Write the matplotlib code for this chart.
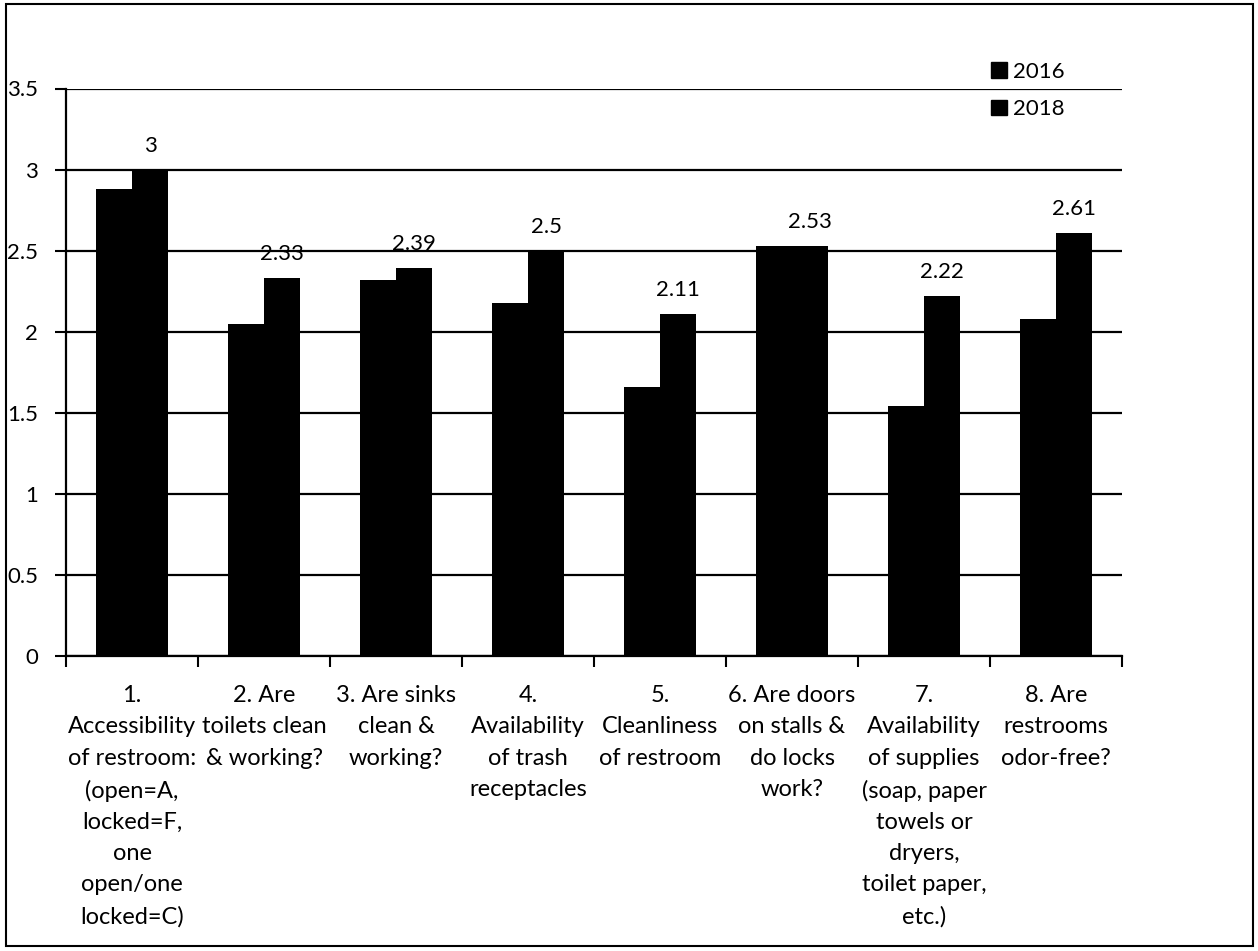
import matplotlib
matplotlib.use("Agg")
import matplotlib.pyplot as plt
from matplotlib.patches import Patch, Rectangle
import numpy as np

plt.rcParams['font.family'] = ['Lato', 'DejaVu Sans']

categories = [
    "1.\nAccessibility\nof restroom:\n(open=A,\nlocked=F,\none\nopen/one\nlocked=C)",
    "2. Are\ntoilets clean\n& working?",
    "3. Are sinks\nclean &\nworking?",
    "4.\nAvailability\nof trash\nreceptacles",
    "5.\nCleanliness\nof restroom",
    "6. Are doors\non stalls &\ndo locks\nwork?",
    "7.\nAvailability\nof supplies\n(soap, paper\ntowels or\ndryers,\ntoilet paper,\netc.)",
    "8. Are\nrestrooms\nodor-free?",
]
series_names = ["2016", "2018"]
values_2016 = [2.88, 2.05, 2.32, 2.18, 1.66, 2.53, 1.54, 2.08]
values_2018 = [3.0, 2.33, 2.39, 2.5, 2.11, 2.53, 2.22, 2.61]
yticks = [0, 0.5, 1, 1.5, 2, 2.5, 3, 3.5]

W, H = 1258, 951
fig = plt.figure(figsize=(W / 100, H / 100), dpi=100)
ax = fig.add_axes([66 / W, 1 - 656 / H, (1122 - 66) / W, (656 - 88.5) / H])

x = np.arange(len(categories))
bw = 0.276
ax.bar(x - bw / 2, values_2016, bw, color="black", label=series_names[0], zorder=3)
ax.bar(x + bw / 2, values_2018, bw, color="black", label=series_names[1], zorder=3)

for xi, v in zip(x, values_2018):
    ax.annotate(f"{v:g}", (xi + bw / 2, v), xytext=(0, 13), textcoords="offset points",
                ha="center", va="baseline", fontsize=16, color="black")

ax.set_xlim(-0.5, len(categories) - 0.5)
ax.set_ylim(0, 3.5)
ax.set_yticks(yticks)
ax.set_yticklabels([f"{t:g}" for t in yticks], fontsize=16)
ax.tick_params(axis="y", length=8, width=1.5, direction="out", pad=12, colors="black")
ax.yaxis.grid(True, color="black", linewidth=1.6, zorder=0)
ax.set_axisbelow(True)

ax.set_xticks(x)
ax.set_xticklabels(categories, fontsize=17, linespacing=1.6)
ax.tick_params(axis="x", which="major", length=0, pad=21)
ax.set_xticks(np.arange(-0.5, len(categories), 1.0), minor=True)
ax.tick_params(axis="x", which="minor", length=8, width=1.5, direction="out")

for s in ["top", "right"]:
    ax.spines[s].set_visible(False)
for s in ["left", "bottom"]:
    ax.spines[s].set_linewidth(1.6)
    ax.spines[s].set_color("black")

handles = [Patch(facecolor="black", edgecolor="black", label=n) for n in series_names]
fig.legend(handles=handles, loc="upper left", bbox_to_anchor=(991 / W, 1 - 62 / H),
           frameon=False, fontsize=16, handlelength=0.7, handleheight=0.7,
           handletextpad=0.3, labelspacing=0.78, borderaxespad=0, borderpad=0)

fig.patches.append(Rectangle((6 / W, 1 - 946 / H), (1253 - 6) / W, (946 - 4) / H,
                             transform=fig.transFigure, fill=False, edgecolor="black",
                             linewidth=1.5))

fig.savefig("out.png", dpi=100, facecolor="white")
